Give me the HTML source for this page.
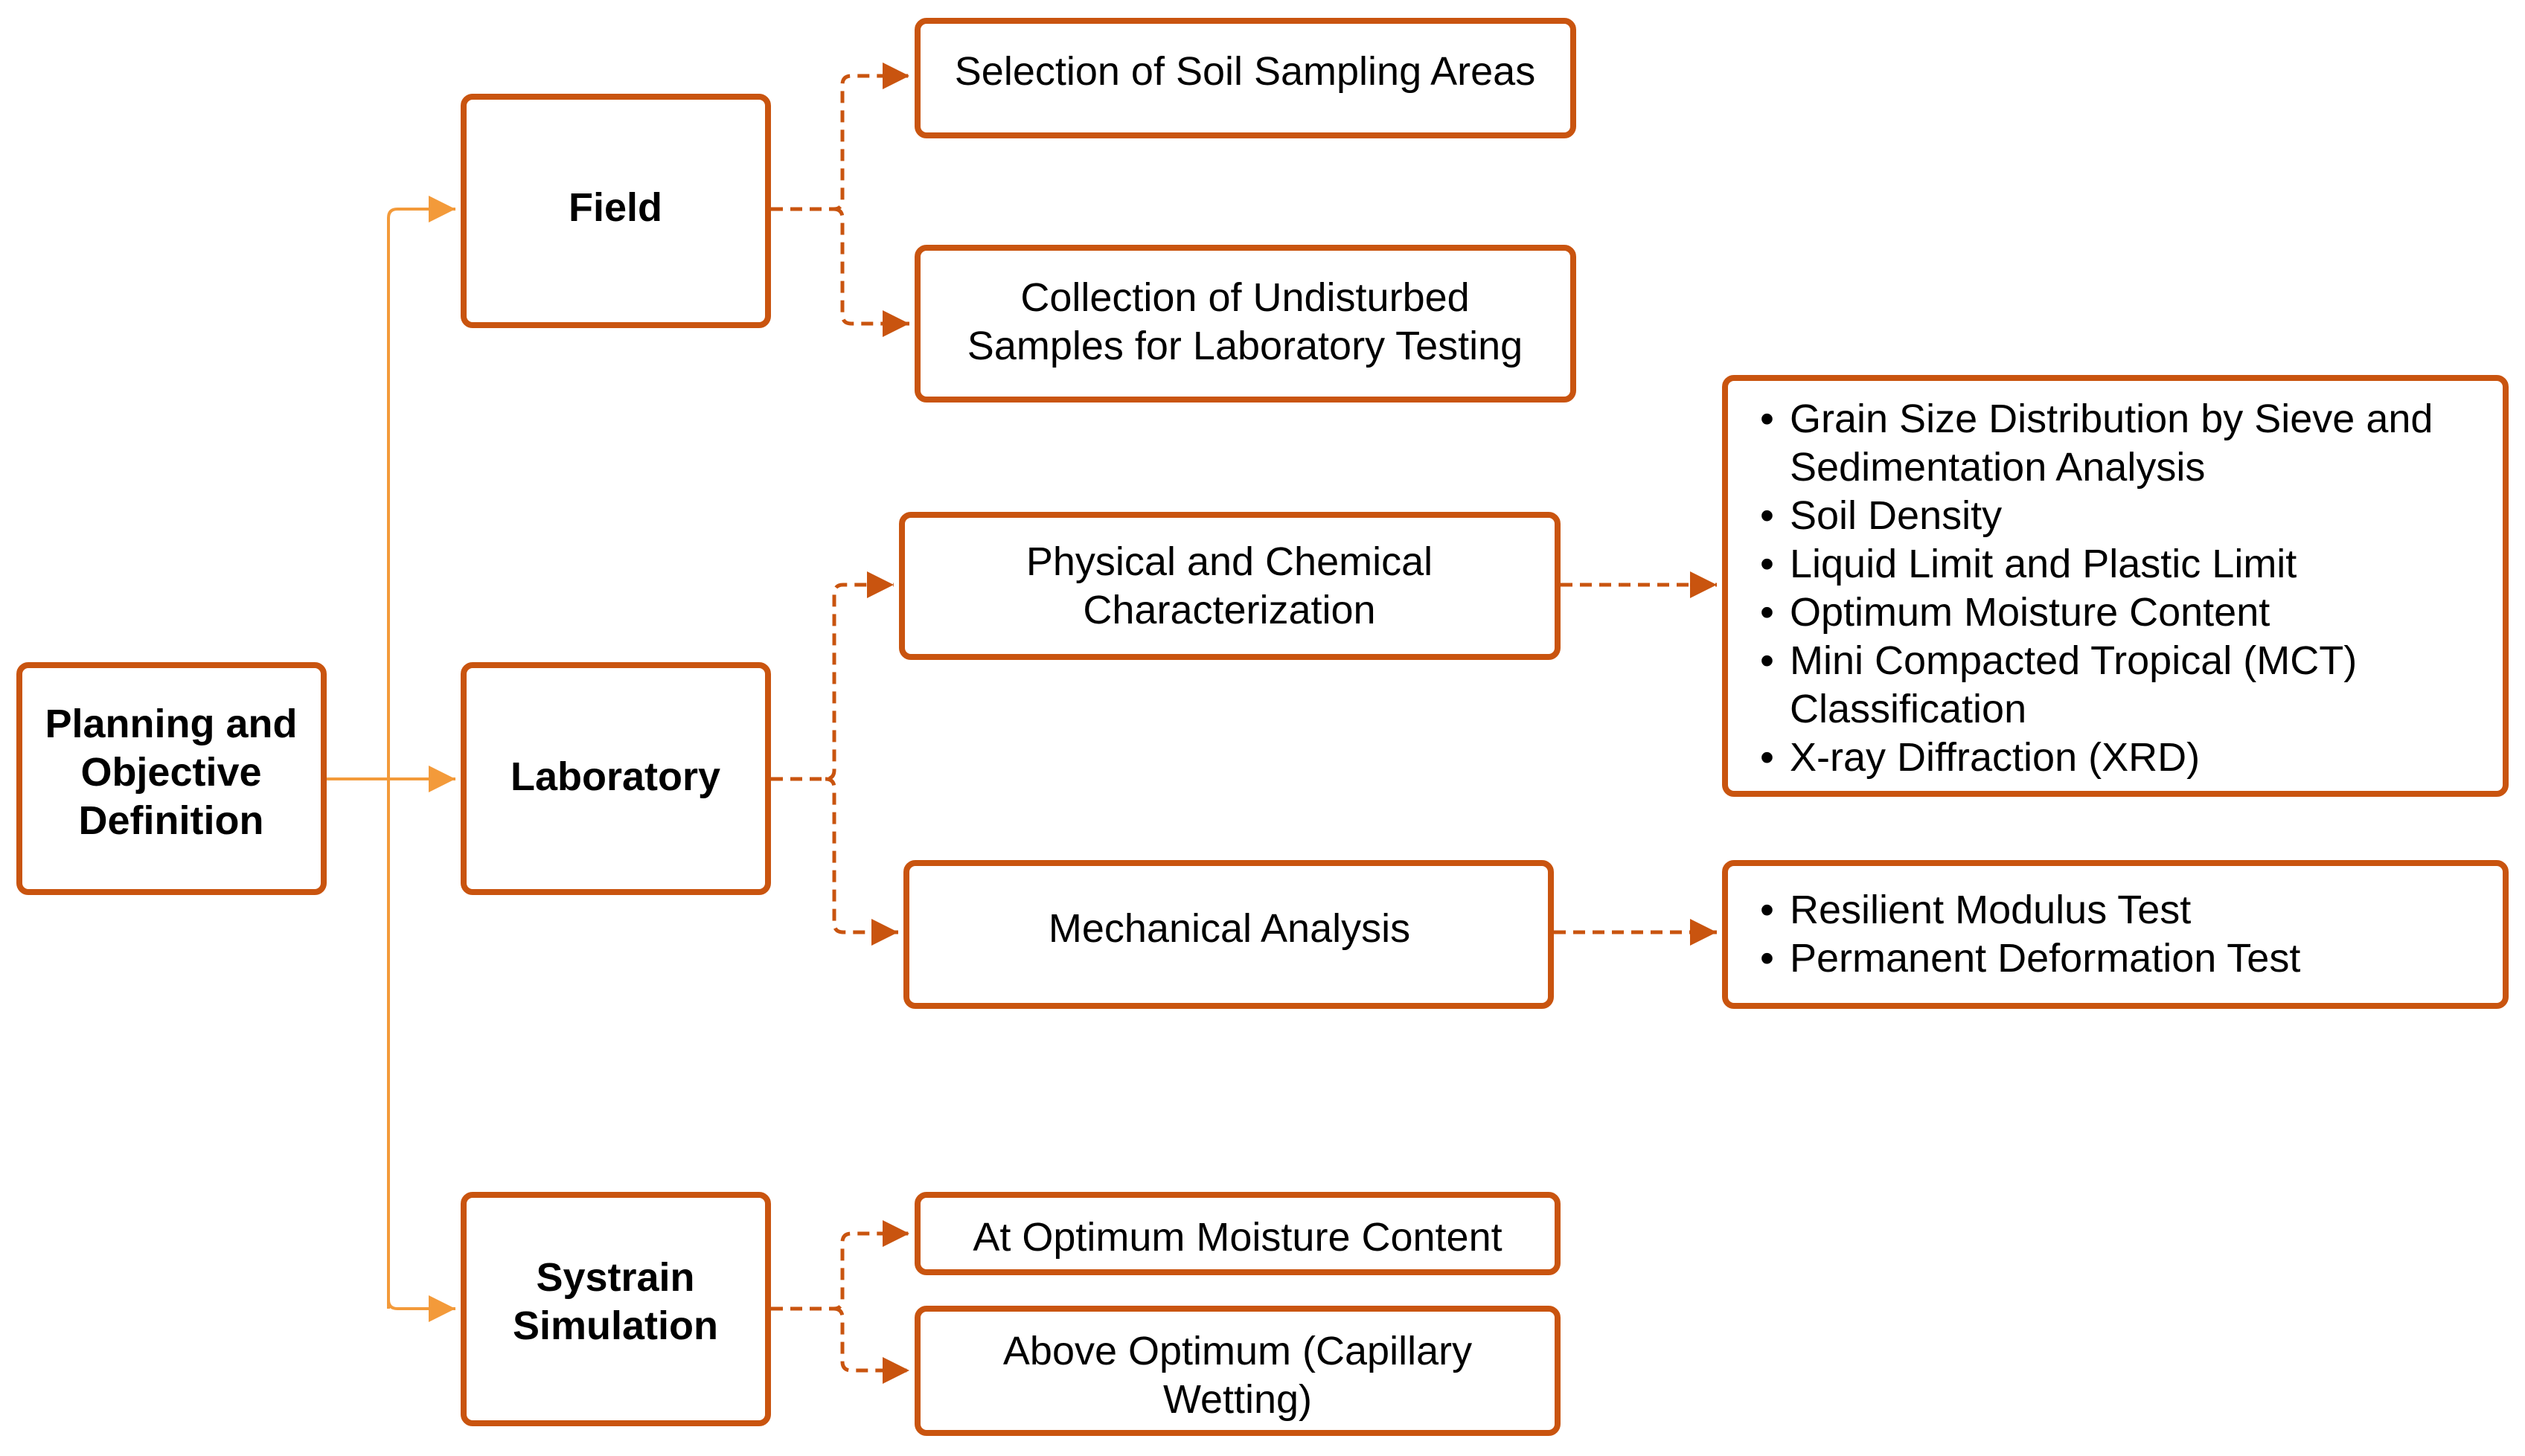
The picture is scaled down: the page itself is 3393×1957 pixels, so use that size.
<!DOCTYPE html>
<html><head><meta charset="utf-8"><style>
html,body{margin:0;padding:0;background:#fff;}
svg{display:block;}
text{font-family:"Liberation Sans",Arial,sans-serif;fill:#000;}
.b{font-weight:bold;font-size:54px;}
.n{font-size:54px;}
</style></head><body>
<svg width="3393" height="1957" viewBox="0 0 3393 1957" xmlns="http://www.w3.org/2000/svg">
<defs>
<marker id="ao" markerWidth="10" markerHeight="10" refX="9" refY="5" orient="auto" markerUnits="userSpaceOnUse" viewBox="0 0 10 10" style="overflow:visible">
<path d="M-36,-13 L0,5 L-36,23 Z" fill="#f39a3a" transform="translate(9,0)"/>
</marker>
<marker id="ad" markerWidth="10" markerHeight="10" refX="9" refY="5" orient="auto" markerUnits="userSpaceOnUse" viewBox="0 0 10 10" style="overflow:visible">
<path d="M-36,-13 L0,5 L-36,23 Z" fill="#c9540f" transform="translate(9,0)"/>
</marker>
</defs>
<g fill="none" stroke="#f39a3a" stroke-width="4">
<path d="M435,1047 H522"/>
<path d="M522,1759 V293 Q522,281 534,281 H612" marker-end="url(#ao)"/>
<path d="M522,1047 H612" marker-end="url(#ao)"/>
<path d="M522,1747 Q522,1759 534,1759 H612" marker-end="url(#ao)"/>
</g>
<g fill="none" stroke="#c9540f" stroke-width="5" stroke-dasharray="16,10">
<path d="M1036,281 H1120 Q1132,281 1132,269 V114 Q1132,102 1144,102 H1222" marker-end="url(#ad)"/>
<path d="M1120,281 Q1132,281 1132,293 V423 Q1132,435 1144,435 H1222" marker-end="url(#ad)"/>
<path d="M1036,1047 H1109 Q1121,1047 1121,1035 V798 Q1121,786 1133,786 H1201" marker-end="url(#ad)"/>
<path d="M1109,1047 Q1121,1047 1121,1059 V1241 Q1121,1253 1133,1253 H1207" marker-end="url(#ad)"/>
<path d="M1036,1759 H1120 Q1132,1759 1132,1747 V1670 Q1132,1658 1144,1658 H1222" marker-end="url(#ad)"/>
<path d="M1120,1759 Q1132,1759 1132,1771 V1830 Q1132,1842 1144,1842 H1222" marker-end="url(#ad)"/>
<path d="M2097,786 H2307" marker-end="url(#ad)"/>
<path d="M2088,1253 H2307" marker-end="url(#ad)"/>
</g>
<g fill="#fff" stroke="#c9540f" stroke-width="8">
<rect x="26" y="894" width="409" height="305" rx="12"/>
<rect x="623" y="130" width="409" height="307" rx="12"/>
<rect x="623" y="894" width="409" height="305" rx="12"/>
<rect x="623" y="1606" width="409" height="307" rx="12"/>
<rect x="1233" y="28" width="881" height="154" rx="12"/>
<rect x="1233" y="333" width="881" height="204" rx="12"/>
<rect x="1212" y="692" width="881" height="191" rx="12"/>
<rect x="1218" y="1160" width="866" height="192" rx="12"/>
<rect x="2318" y="508" width="1049" height="559" rx="12"/>
<rect x="2318" y="1160" width="1049" height="192" rx="12"/>
<rect x="1233" y="1606" width="860" height="104" rx="12"/>
<rect x="1233" y="1759" width="860" height="167" rx="12"/>
</g>
<g class="b" text-anchor="middle">
<text x="230" y="991">Planning and</text>
<text x="230" y="1056">Objective</text>
<text x="230" y="1121">Definition</text>
<text x="827" y="297">Field</text>
<text x="827" y="1062">Laboratory</text>
<text x="827" y="1735">Systrain</text>
<text x="827" y="1800">Simulation</text>
</g>
<g class="n" text-anchor="middle">
<text x="1673" y="114">Selection of Soil Sampling Areas</text>
<text x="1673" y="418">Collection of Undisturbed</text>
<text x="1673" y="483">Samples for Laboratory Testing</text>
<text x="1652" y="773">Physical and Chemical</text>
<text x="1652" y="838">Characterization</text>
<text x="1652" y="1266">Mechanical Analysis</text>
<text x="1663" y="1681">At Optimum Moisture Content</text>
<text x="1663" y="1834">Above Optimum (Capillary</text>
<text x="1663" y="1899">Wetting)</text>
</g>
<g class="n">
<text x="2365" y="581">•</text><text x="2405" y="581">Grain Size Distribution by Sieve and</text>
<text x="2405" y="646">Sedimentation Analysis</text>
<text x="2365" y="711">•</text><text x="2405" y="711">Soil Density</text>
<text x="2365" y="776">•</text><text x="2405" y="776">Liquid Limit and Plastic Limit</text>
<text x="2365" y="841">•</text><text x="2405" y="841">Optimum Moisture Content</text>
<text x="2365" y="906">•</text><text x="2405" y="906">Mini Compacted Tropical (MCT)</text>
<text x="2405" y="971">Classification</text>
<text x="2365" y="1036">•</text><text x="2405" y="1036">X-ray Diffraction (XRD)</text>
<text x="2365" y="1241">•</text><text x="2405" y="1241">Resilient Modulus Test</text>
<text x="2365" y="1306">•</text><text x="2405" y="1306">Permanent Deformation Test</text>
</g>
</svg>
</body></html>
